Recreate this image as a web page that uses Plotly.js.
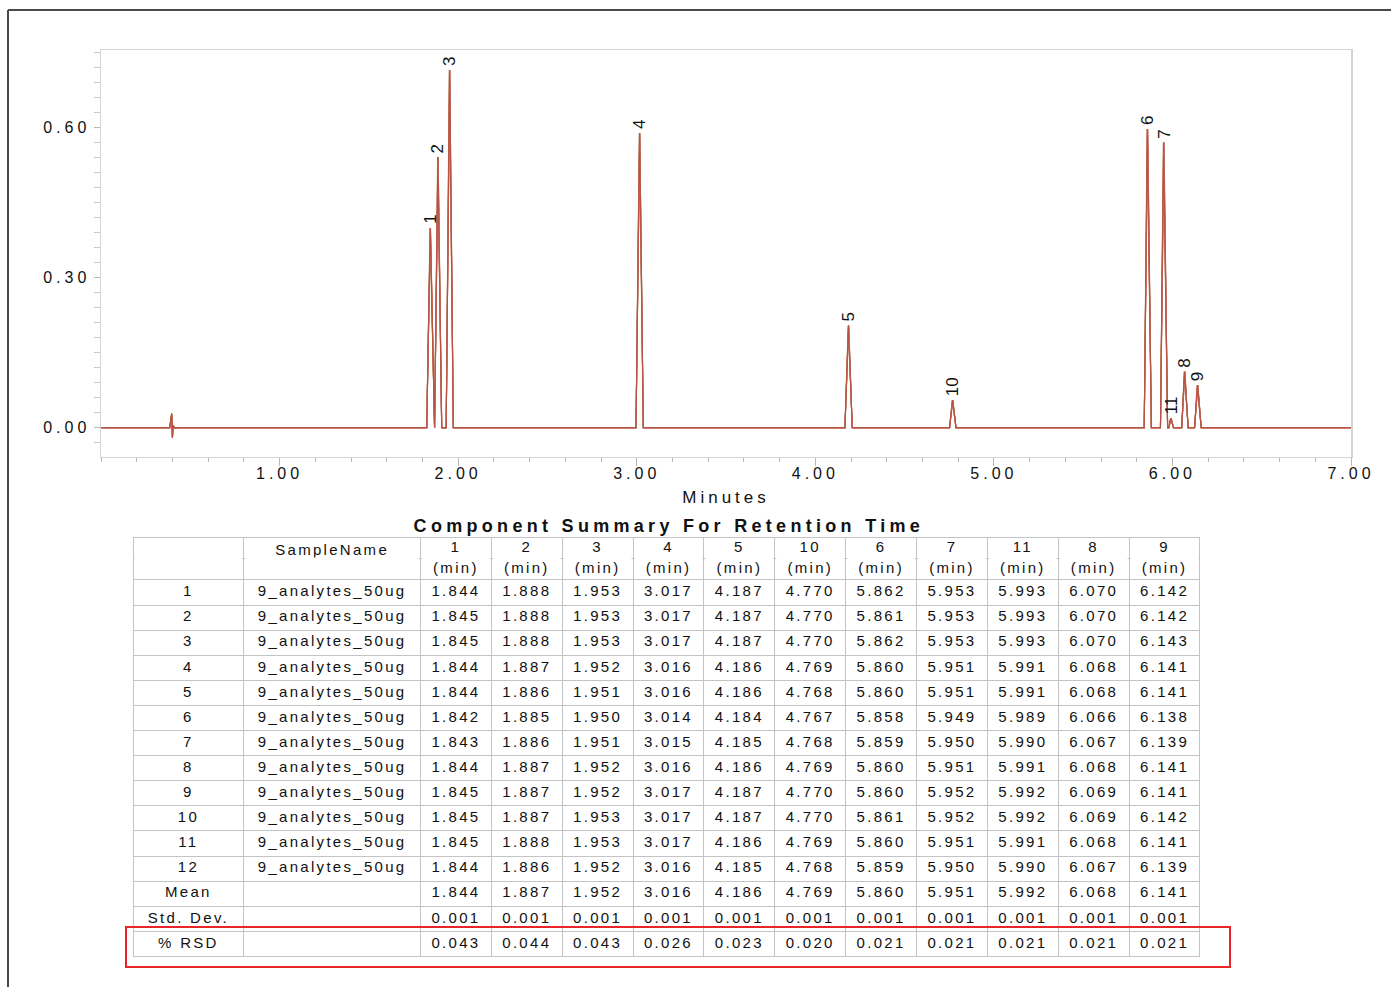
<!DOCTYPE html>
<html><head><meta charset="utf-8">
<script src="https://cdn.plot.ly/plotly-3.0.1.min.js"></script>
<style>
html,body{margin:0;padding:0;background:#fff;}
#chart{width:1391px;height:987px;}
.xtick text,.ytick text{letter-spacing:4px;}
.g-xtitle text{letter-spacing:4px;}
text.cell-text{letter-spacing:2.3px;transform:translateY(-3px);}
#header text.cell-text{transform:translateY(-5px);}
g.y-column:nth-of-type(2) #header text.cell-text{transform:translateY(-2px);}
.annotation[data-index="0"] text{letter-spacing:4.3px;}
</style></head><body><div id="chart"></div>
<script>
// ---- data ----
const peakNames   = ['1','2','3','4','5','10','6','7','11','8','9'];
const peakHeights = [0.399, 0.541, 0.715, 0.589, 0.204, 0.055, 0.597, 0.570, 0.019, 0.112, 0.085];
const peakStart   = [1.824, 1.868, 1.933, 2.996, 4.166, 4.752, 5.842, 5.933, 5.980, 6.052, 6.124];
const peakEnd     = [1.864, 1.908, 1.973, 3.037, 4.207, 4.788, 5.882, 5.973, 6.006, 6.088, 6.161];
const artifactTime  = [0.385, 0.396, 0.400, 0.404, 0.415, 0.430];
const artifactValue = [0.000, 0.028, -0.020, 0.004, -0.001, 0.000];
const runStart = 0.0, runEnd = 7.0;

const rowLabels = ['1','2','3','4','5','6','7','8','9','10','11','12','Mean','Std. Dev.','% RSD'];
const sampleNames = ['9_analytes_50ug','9_analytes_50ug','9_analytes_50ug','9_analytes_50ug',
  '9_analytes_50ug','9_analytes_50ug','9_analytes_50ug','9_analytes_50ug',
  '9_analytes_50ug','9_analytes_50ug','9_analytes_50ug','9_analytes_50ug','','',''];
const headerTop = ['', 'SampleName', '1','2','3','4','5','10','6','7','11','8','9'];
const headerUnit = ['', '', '(min)','(min)','(min)','(min)','(min)','(min)','(min)','(min)','(min)','(min)','(min)'];
const retentionTimes = [
  ['1.844','1.888','1.953','3.017','4.187','4.770','5.862','5.953','5.993','6.070','6.142'],
  ['1.845','1.888','1.953','3.017','4.187','4.770','5.861','5.953','5.993','6.070','6.142'],
  ['1.845','1.888','1.953','3.017','4.187','4.770','5.862','5.953','5.993','6.070','6.143'],
  ['1.844','1.887','1.952','3.016','4.186','4.769','5.860','5.951','5.991','6.068','6.141'],
  ['1.844','1.886','1.951','3.016','4.186','4.768','5.860','5.951','5.991','6.068','6.141'],
  ['1.842','1.885','1.950','3.014','4.184','4.767','5.858','5.949','5.989','6.066','6.138'],
  ['1.843','1.886','1.951','3.015','4.185','4.768','5.859','5.950','5.990','6.067','6.139'],
  ['1.844','1.887','1.952','3.016','4.186','4.769','5.860','5.951','5.991','6.068','6.141'],
  ['1.845','1.887','1.952','3.017','4.187','4.770','5.860','5.952','5.992','6.069','6.141'],
  ['1.845','1.887','1.953','3.017','4.187','4.770','5.861','5.952','5.992','6.069','6.142'],
  ['1.845','1.888','1.953','3.017','4.186','4.769','5.860','5.951','5.991','6.068','6.141'],
  ['1.844','1.886','1.952','3.016','4.185','4.768','5.859','5.950','5.990','6.067','6.139']
];
const meanRT = ['1.844','1.887','1.952','3.016','4.186','4.769','5.860','5.951','5.992','6.068','6.141'];
const stdRT  = ['0.001','0.001','0.001','0.001','0.001','0.001','0.001','0.001','0.001','0.001','0.001'];
const rsdRT  = ['0.043','0.044','0.043','0.026','0.023','0.020','0.021','0.021','0.021','0.021','0.021'];

const xTickVals = [1,2,3,4,5,6,7];
const xTickText = ['1.00','2.00','3.00','4.00','5.00','6.00','7.00'];
const yTickVals = [0, 0.30, 0.60];
const yTickText = ['0.00','0.30','0.60'];

const traceColors = ['#d9883e','#a8b43c','#c8469a','#c0392b','#e39a78','#8f9a2c',
                     '#d86a9a','#c65a48','#b8b060','#b0407a','#d07a50','#b03a2e'];

// ---- geometry of the figure (layout, not data) ----
const FIG_W = 1391, FIG_H = 987;
const M = {l: 101, r: 40, t: 50, b: 30};
const plotW = FIG_W - M.l - M.r, plotH = FIG_H - M.t - M.b;
const tableDomX = [0.0256, 0.8792], tableDomY = [0, 0.462];
const colWidths = [111, 177, 71, 71, 71, 71, 71, 71, 71, 71, 71, 71, 71];
const headerRowH = 21, cellRowH = 25.1;

// ---- chromatogram traces (one per injection) ----
const traces = [];
retentionTimes.forEach((row, i) => {
  const xs = [runStart], ys = [0];
  artifactTime.forEach((t, k) => { xs.push(t); ys.push(artifactValue[k]); });
  row.forEach((v, j) => {
    xs.push(peakStart[j], parseFloat(v), peakEnd[j]);
    ys.push(0, peakHeights[j], 0);
  });
  xs.push(runEnd); ys.push(0);
  traces.push({
    type: 'scatter', mode: 'lines', x: xs, y: ys,
    line: {color: traceColors[i], width: 1.1}, opacity: 0.55,
    hoverinfo: 'skip', showlegend: false, xaxis: 'x', yaxis: 'y'
  });
});

// ---- table ----
const headerVals = headerTop.map((t, c) => [t, headerUnit[c]]);
const cellCols = [rowLabels, sampleNames];
peakNames.forEach((n, j) => {
  const col = retentionTimes.map(r => r[j]);
  col.push(meanRT[j], stdRT[j], rsdRT[j]);
  cellCols.push(col);
});
const tableFont = {family: 'Liberation Sans, Arial, sans-serif', size: 15, color: '#111'};
traces.push({
  type: 'table',
  domain: {x: tableDomX, y: tableDomY},
  columnwidth: colWidths,
  header: {
    values: headerVals, align: 'center', height: headerRowH,
    line: {color: '#c4c4c4', width: 1}, fill: {color: '#ffffff'}, font: tableFont
  },
  cells: {
    values: cellCols, align: 'center', height: cellRowH,
    line: {color: '#c4c4c4', width: 1}, fill: {color: '#ffffff'}, font: tableFont
  }
});

// ---- annotations ----
const annotations = [{
  text: '<b>Component Summary For Retention Time</b>', xref: 'paper', yref: 'paper',
  x: 0.4544, y: 0.4752, xanchor: 'center', yanchor: 'middle', showarrow: false,
  font: {family: 'Liberation Sans, Arial, sans-serif', size: 18, color: '#111'}
}];
peakNames.forEach((n, j) => {
  annotations.push({
    text: n, xref: 'x', yref: 'y', x: parseFloat(meanRT[j]), y: peakHeights[j],
    textangle: -90, xanchor: 'center', yanchor: 'bottom', yshift: 2, showarrow: false,
    font: {family: 'Liberation Sans, Arial, sans-serif', size: 17, color: '#111'}
  });
});

// ---- shapes: page frame, highlight box, and merge of the two header lines ----
const shapes = [
  {type: 'line', xref: 'paper', yref: 'paper', x0: -0.0744, x1: -0.0744, y0: 1.0441, y1: -0.0331,
   line: {color: '#4a4a4a', width: 2}},
  {type: 'line', xref: 'paper', yref: 'paper', x0: -0.0744, x1: 1.032, y0: 1.0441, y1: 1.0441,
   line: {color: '#4a4a4a', width: 2}},
  {type: 'rect', xref: 'paper', yref: 'paper', x0: 0.02, x1: 0.9032, y0: -0.011, y1: 0.0331,
   line: {color: '#e8262a', width: 2}, fillcolor: 'rgba(0,0,0,0)'}
];
const wSum = colWidths.reduce((a, b) => a + b, 0);
const insetPaper = 1.5 / plotW;
const splitY = tableDomY[1] - headerRowH / plotH;
let acc = 0;
colWidths.forEach(w => {
  const a = tableDomX[0] + (acc / wSum) * (tableDomX[1] - tableDomX[0]);
  acc += w;
  const b = tableDomX[0] + (acc / wSum) * (tableDomX[1] - tableDomX[0]);
  shapes.push({type: 'line', xref: 'paper', yref: 'paper', x0: a + insetPaper, x1: b - insetPaper,
    y0: splitY, y1: splitY, line: {color: '#ffffff', width: 3}});
});

const layout = {
  width: FIG_W, height: FIG_H,
  margin: {l: M.l, r: M.r, t: M.t, b: M.b, pad: 0},
  paper_bgcolor: '#ffffff', plot_bgcolor: '#ffffff',
  font: {family: 'Liberation Sans, Arial, sans-serif', size: 16, color: '#111'}, showlegend: false,
  xaxis: {
    range: [0, 7], tickmode: 'array', tickvals: xTickVals, ticktext: xTickText,
    ticks: 'outside', ticklen: 8, tickcolor: '#b8b8b8', tickwidth: 1, ticklabelstandoff: -7,
    minor: {tickmode: 'linear', tick0: 0, dtick: 0.2, ticks: 'outside', ticklen: 4, tickcolor: '#b8b8b8', showgrid: false},
    showgrid: false, zeroline: false, showline: true, linecolor: '#d4d4d4', linewidth: 1.5, mirror: true,
    tickfont: {family: 'Liberation Sans, Arial, sans-serif', size: 16, color: '#111'},
    title: {text: 'Minutes', standoff: 10, font: {family: 'Liberation Sans, Arial, sans-serif', size: 17, color: '#111'}},
    anchor: 'y', fixedrange: true
  },
  yaxis: {
    domain: [0.5513, 1], range: [-0.0586, 0.755], tickmode: 'array', tickvals: yTickVals, ticktext: yTickText,
    ticks: 'outside', ticklen: 6, tickcolor: '#b8b8b8', tickwidth: 1,
    minor: {tickmode: 'linear', tick0: 0, dtick: 0.03, ticks: 'outside', ticklen: 6, tickcolor: '#c8c8c8', showgrid: false},
    showgrid: false, zeroline: false, showline: true, linecolor: '#d4d4d4', linewidth: 1.5, mirror: true,
    tickfont: {family: 'Liberation Sans, Arial, sans-serif', size: 16, color: '#111'},
    anchor: 'x', fixedrange: true
  },
  annotations: annotations,
  shapes: shapes
};

Plotly.newPlot('chart', traces, layout, {displayModeBar: false, staticPlot: true});
</script></body></html>
